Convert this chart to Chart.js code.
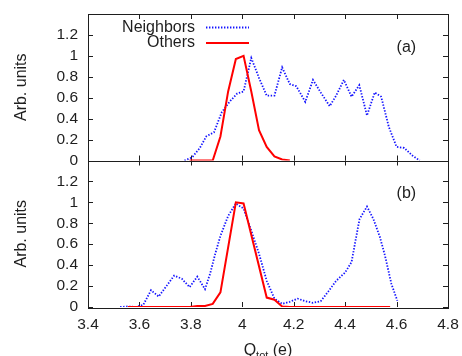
<!DOCTYPE html>
<html>
<head>
<meta charset="utf-8">
<script src="https://cdn.jsdelivr.net/npm/chart.js@4.4.0/dist/chart.umd.min.js"></script>
<style>
  body{margin:0;background:#fff;}
  #wrap{width:462px;height:356px;position:relative;}
</style>
</head>
<body>
<div id="wrap"><canvas id="grafica"></canvas></div>
<script>
const xTicks = [3.4, 3.6, 3.8, 4, 4.2, 4.4, 4.6, 4.8];
const yTicks = [0, 0.2, 0.4, 0.6, 0.8, 1, 1.2];

// panel (a)
const neighborsAX = [3.775, 3.805, 3.835, 3.86, 3.89, 3.92, 3.95, 3.98, 4.005, 4.035, 4.065, 4.095, 4.125, 4.155, 4.185, 4.21,
  4.245, 4.275, 4.305, 4.34, 4.365, 4.395, 4.425, 4.455, 4.485, 4.515, 4.54, 4.57, 4.6, 4.63, 4.66, 4.69];
const neighborsAY = [0, 0.03, 0.12, 0.23, 0.27, 0.46, 0.56, 0.64, 0.66, 0.98, 0.79, 0.62, 0.62, 0.89, 0.73, 0.71,
  0.56, 0.77, 0.65, 0.52, 0.62, 0.77, 0.61, 0.72, 0.43, 0.65, 0.61, 0.32, 0.13, 0.12, 0.05, 0];
const othersAX = [3.795, 3.825, 3.855, 3.885, 3.915, 3.945, 3.975, 4.005, 4.035, 4.065, 4.095, 4.125, 4.155, 4.185];
const othersAY = [0, 0, 0, 0, 0.23, 0.66, 0.97, 1.0, 0.66, 0.29, 0.13, 0.04, 0.01, 0];

// panel (b)
const neighborsBX = [3.525, 3.555, 3.585, 3.615, 3.645, 3.675, 3.705, 3.735, 3.765, 3.795, 3.825, 3.855, 3.875, 3.895,
  3.915, 3.945, 3.975, 4.005, 4.035, 4.065, 4.095, 4.125, 4.155, 4.185, 4.215, 4.245, 4.275, 4.305, 4.335, 4.365,
  4.4, 4.425, 4.44, 4.456, 4.485, 4.51, 4.535, 4.555, 4.58, 4.603];
const neighborsBY = [0, 0.005, 0, 0.02, 0.16, 0.10, 0.20, 0.30, 0.27, 0.19, 0.29, 0.17, 0.32, 0.51,
  0.68, 0.87, 0.99, 0.94, 0.73, 0.51, 0.25, 0.08, 0.03, 0.05, 0.08, 0.055, 0.04, 0.055, 0.15, 0.25,
  0.33, 0.43, 0.63, 0.84, 0.96, 0.84, 0.67, 0.49, 0.22, 0.06];
const othersBX = [3.555, 3.795, 3.825, 3.855, 3.885, 3.915, 3.975, 4.005, 4.095, 4.125, 4.155, 4.185, 4.575];
const othersBY = [0, 0, 0.01, 0.01, 0.03, 0.14, 1.0, 0.99, 0.09, 0.07, 0.005, 0, 0];

const panelLabels = ['(a)', '(b)'];
const FONT = "'Liberation Sans', Arial, Helvetica, sans-serif";
const INK = '#1e1e1e';
const AZUL = 'rgb(20,20,255)';
const ROJO = 'rgb(255,0,0)';

function puntos(xs, ys){
  return xs.map((x, i) => ({x, y: ys[i]}));
}

function serie(label, xs, ys, eje, azul){
  return {
    label,
    data: puntos(xs, ys),
    yAxisID: eje,
    borderColor: azul ? AZUL : ROJO,
    borderWidth: azul ? 1.8 : 2,
    borderDash: azul ? [1.4, 1.6] : [],
    pointRadius: 0,
    tension: 0,
    fill: false,
    order: azul ? 2 : 1
  };
}

function sinPadding(s){
  s.paddingTop = 0; s.paddingBottom = 0;
  s.paddingLeft = 0; s.paddingRight = 0;
}

function ejeY(){
  return {
    type: 'linear', position: 'left', stack: 'paneles', stackWeight: 1,
    min: 0, max: 1.4,
    afterBuildTicks: s => { s.ticks = yTicks.map(v => ({value: v})); },
    afterFit: s => { s.width = 88; sinPadding(s); },
    ticks: { callback: v => String(v), autoSkip: false, padding: 10, color: INK, font: {family: FONT, size: 15.5} },
    grid: { display: false, drawTicks: false },
    border: { display: false },
    title: { display: true, text: 'Arb. units', color: INK, font: {family: FONT, size: 16}, padding: {top: 12, bottom: 0} }
  };
}

function linea(ctx, x1, y1, x2, y2){
  ctx.beginPath(); ctx.moveTo(x1, y1); ctx.lineTo(x2, y2); ctx.stroke();
}

const marco = {
  id: 'marco',
  beforeDatasetsDraw(chart){
    const {ctx, chartArea: {left, right}, scales: {x, yA, yB}} = chart;
    ctx.save();
    ctx.strokeStyle = INK;
    ctx.lineWidth = 1;
    [yA, yB].forEach(y => {
      ctx.strokeRect(left + 0.5, Math.round(y.top) + 0.5, right - left, Math.round(y.bottom - y.top));
      yTicks.forEach(v => {
        const p = Math.round(y.getPixelForValue(v)) + 0.5;
        linea(ctx, left, p, left + 5, p);
        linea(ctx, right, p, right - 5, p);
      });
      xTicks.forEach(v => {
        const p = Math.round(x.getPixelForValue(v)) + 0.5;
        linea(ctx, p, y.bottom, p, y.bottom - 5);
        linea(ctx, p, y.top, p, y.top + 5);
      });
    });
    ctx.restore();
  },
  afterDraw(chart){
    const {ctx, chartArea: {left}, scales: {x, yA, yB}} = chart;
    ctx.save();
    ctx.fillStyle = INK;
    ctx.font = '16px ' + FONT;
    ctx.textBaseline = 'middle';

    // leyenda (texto a la derecha, muestra despues)
    const items = chart.data.datasets.filter(d => d.yAxisID === 'yA');
    items.forEach((d, i) => {
      const yy = yA.top + 13.5 + i * 15.5;
      ctx.textAlign = 'right';
      ctx.fillText(d.label, left + 107, yy);
      ctx.strokeStyle = d.borderColor;
      ctx.lineWidth = d.borderWidth;
      ctx.setLineDash(d.borderDash);
      linea(ctx, left + 118, yy, left + 161, yy);
      ctx.setLineDash([]);
    });

    // etiquetas de panel
    ctx.textAlign = 'center';
    [yA, yB].forEach((y, i) => {
      ctx.fillText(panelLabels[i], x.getPixelForValue(4.638), y.getPixelForValue(1.08));
    });

    // titulo eje x con subindice
    const cx = (x.left + x.right) / 2;
    ctx.textBaseline = 'alphabetic';
    ctx.textAlign = 'left';
    ctx.font = '16px ' + FONT;
    const wQ = ctx.measureText('Q').width;
    const wE = ctx.measureText(' (e)').width;
    ctx.font = '11px ' + FONT;
    const wT = ctx.measureText('tot').width;
    let px = cx - (wQ + wT + wE) / 2;
    const base = x.bottom - 1;
    ctx.font = '16px ' + FONT;
    ctx.fillText('Q', px, base);
    ctx.font = '11px ' + FONT;
    ctx.fillText('tot', px + wQ, base + 4);
    ctx.font = '16px ' + FONT;
    ctx.fillText(' (e)', px + wQ + wT, base);
    ctx.restore();
  }
};

new Chart(document.getElementById('grafica'), {
  type: 'line',
  data: {
    datasets: [
      serie('Neighbors', neighborsAX, neighborsAY, 'yA', true),
      serie('Others', othersAX, othersAY, 'yA', false),
      serie('Neighbors', neighborsBX, neighborsBY, 'yB', true),
      serie('Others', othersBX, othersBY, 'yB', false)
    ]
  },
  options: {
    responsive: true,
    maintainAspectRatio: false,
    animation: false,
    layout: { padding: {top: 14, right: 14, left: 0, bottom: 0} },
    plugins: { legend: {display: false}, tooltip: {enabled: false} },
    scales: {
      x: {
        type: 'linear', position: 'bottom', min: 3.4, max: 4.8,
        afterBuildTicks: s => { s.ticks = xTicks.map(v => ({value: v})); },
        afterFit: s => { s.height = 49; sinPadding(s); },
        ticks: { callback: v => String(v), padding: 8, maxRotation: 0, autoSkip: false, color: INK, font: {family: FONT, size: 15.5} },
        grid: { display: false, drawTicks: false },
        border: { display: false }
      },
      yB: ejeY(),
      yA: ejeY()
    }
  },
  plugins: [marco]
});
</script>
</body>
</html>
